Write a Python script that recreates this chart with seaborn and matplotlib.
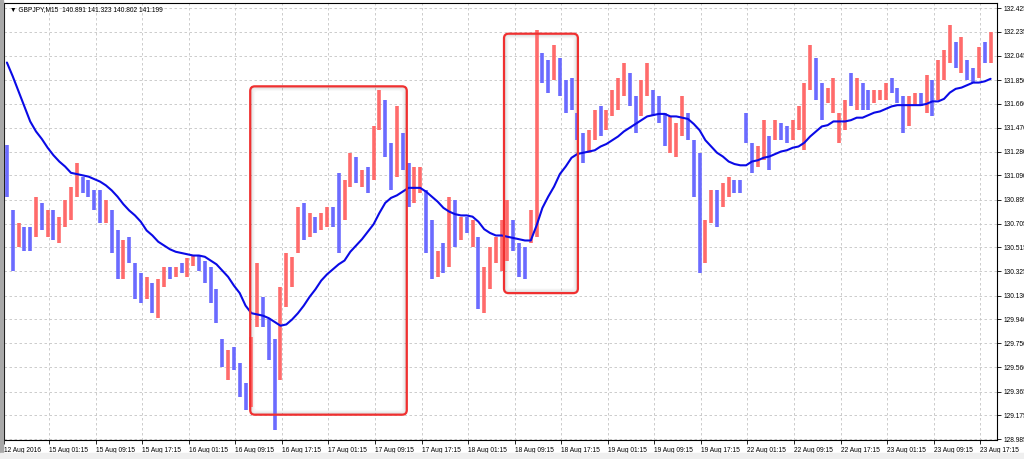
import numpy as np
import pandas as pd
import matplotlib
matplotlib.use("Agg")
import matplotlib.pyplot as plt
import seaborn as sns
from matplotlib.patches import FancyBboxPatch, Rectangle

# ---------------- data (hourly-resampled view of GBPJPY M15) ----------------
title_text = "\u25bc GBPJPY,M15  140.891 141.323 140.802 141.199"

bar_high = [
    131.33, 130.81, 130.71, 130.68, 130.68, 130.92, 130.87, 130.81, 130.81, 130.76,
    130.89, 131.00, 131.19, 131.08, 131.05, 130.97, 130.97, 130.89, 130.81, 130.65,
    130.57, 130.60, 130.39, 130.31, 130.28, 130.23, 130.26, 130.36, 130.36, 130.36,
    130.39, 130.43, 130.45, 130.45, 130.41, 130.36, 130.18, 129.78, 129.70, 129.72,
    129.59, 129.43, 129.80, 130.39, 130.12, 129.94, 129.78, 130.20, 130.47, 130.44,
    130.84, 130.87, 130.79, 130.76, 130.79, 130.84, 130.84, 131.11, 131.05, 131.27,
    131.24, 131.13, 131.16, 131.48, 131.77, 131.69, 131.35, 131.64, 131.43, 131.19,
    131.16, 131.16, 130.97, 130.73, 130.49, 130.55, 130.92, 130.89, 130.76, 130.76,
    130.73, 130.60, 130.36, 130.52, 130.60, 130.73, 130.89, 130.73, 130.55, 130.52,
    130.81, 132.25, 132.07, 132.01, 132.13, 132.03, 131.85, 131.87, 131.59, 131.43,
    131.45, 131.61, 131.64, 131.61, 131.77, 131.87, 131.99, 131.91, 131.72, 131.85,
    131.99, 131.77, 131.72, 131.59, 131.56, 131.51, 131.72, 131.59, 131.37, 131.27,
    130.73, 130.97, 130.97, 131.03, 131.08, 131.05, 131.05, 131.59, 131.35, 131.32,
    131.53, 131.40, 131.53, 131.51, 131.48, 131.53, 131.64, 131.83, 132.13, 132.03,
    131.83, 131.79, 131.87, 131.59, 131.69, 131.91, 131.87, 131.83, 131.77, 131.77,
    131.77, 131.83, 131.87, 131.79, 131.72, 131.72, 131.75, 131.75, 131.89, 131.85,
    132.01, 132.09, 132.29, 132.15, 132.19, 132.01, 131.95, 132.11, 132.15, 132.23,
]
bar_low = [
    130.92, 130.33, 130.52, 130.49, 130.49, 130.60, 130.65, 130.60, 130.57, 130.55,
    130.68, 130.73, 130.92, 130.95, 130.92, 130.81, 130.71, 130.71, 130.47, 130.26,
    130.26, 130.39, 130.10, 130.07, 130.10, 129.99, 129.95, 130.20, 130.26, 130.28,
    130.31, 130.28, 130.37, 130.33, 130.23, 130.07, 129.91, 129.56, 129.46, 129.54,
    129.32, 129.22, 129.24, 129.88, 129.88, 129.62, 129.06, 129.46, 130.04, 130.20,
    130.47, 130.57, 130.60, 130.63, 130.65, 130.68, 130.68, 130.47, 130.73, 131.00,
    131.03, 131.00, 130.95, 131.05, 131.45, 131.24, 130.97, 131.08, 131.13, 130.84,
    130.87, 130.95, 130.47, 130.26, 130.28, 130.31, 130.36, 130.52, 130.57, 130.63,
    130.52, 130.02, 129.99, 130.18, 130.39, 130.33, 130.41, 130.49, 130.28, 130.26,
    130.55, 130.60, 131.83, 131.75, 131.85, 131.72, 131.59, 131.61, 131.37, 131.19,
    131.27, 131.37, 131.40, 131.45, 131.56, 131.61, 131.72, 131.64, 131.43, 131.56,
    131.72, 131.56, 131.51, 131.32, 131.27, 131.24, 131.40, 131.37, 130.92, 130.31,
    130.39, 130.71, 130.68, 130.84, 130.92, 130.95, 130.95, 131.35, 131.11, 131.16,
    131.21, 131.13, 131.37, 131.37, 131.35, 131.37, 131.45, 131.29, 131.77, 131.69,
    131.53, 131.67, 131.59, 131.35, 131.45, 131.64, 131.61, 131.61, 131.61, 131.67,
    131.69, 131.69, 131.75, 131.67, 131.43, 131.48, 131.64, 131.64, 131.59, 131.56,
    131.69, 131.85, 131.99, 131.95, 131.91, 131.85, 131.83, 131.87, 131.99, 131.99,
]
# r = bullish bar (red), b = bearish bar (blue)
bar_dir = ("bbrbbrbrbr" "rrrbbbbrbb" "rbbbrbrrbr" "brrbbbbbrb" "bbrrbbbrrr"
           "rbrbrrbbrr" "brbrrbbrbb" "rrbbrbrbrb" "rbrrrrrbbb" "rrbbrbbbbb"
           "rrbrrrrbbr" "rbbbrrrbbb" "rrbrrbbbbr" "rbrbbrrrrb" "brrrrbrbbr"
           "rrbbbrrbrb" "rrrbrbbrbr")

ma_values = [
    131.99, 131.88, 131.76, 131.64, 131.52, 131.44, 131.38, 131.31, 131.25, 131.20,
    131.16, 131.11, 131.10, 131.09, 131.08, 131.06, 131.04, 131.01, 130.97, 130.92,
    130.86, 130.81, 130.77, 130.72, 130.65, 130.61, 130.56, 130.53, 130.50, 130.48,
    130.47, 130.46, 130.45, 130.45, 130.44, 130.41, 130.38, 130.33, 130.28, 130.21,
    130.15, 130.05, 129.99, 129.98, 129.97, 129.95, 129.92, 129.89, 129.90, 129.94,
    129.99, 130.05, 130.12, 130.18, 130.25, 130.30, 130.34, 130.38, 130.41, 130.48,
    130.53, 130.58, 130.64, 130.70, 130.79, 130.87, 130.91, 130.93, 130.96, 130.99,
    130.99, 130.99, 130.96, 130.92, 130.88, 130.83, 130.80, 130.78, 130.77, 130.77,
    130.76, 130.72, 130.66, 130.63, 130.61, 130.61, 130.60, 130.59, 130.58, 130.57,
    130.57, 130.69, 130.83, 130.92, 131.00, 131.10, 131.16, 131.23, 131.26, 131.27,
    131.28, 131.29, 131.32, 131.34, 131.37, 131.40, 131.44, 131.47, 131.50, 131.53,
    131.56, 131.57, 131.58, 131.58, 131.56, 131.56, 131.55, 131.54, 131.50, 131.45,
    131.37, 131.32, 131.27, 131.24, 131.20, 131.18, 131.17, 131.17, 131.20, 131.21,
    131.23, 131.24, 131.26, 131.28, 131.29, 131.31, 131.32, 131.35, 131.40, 131.44,
    131.48, 131.49, 131.52, 131.52, 131.52, 131.53, 131.55, 131.55, 131.57, 131.59,
    131.60, 131.62, 131.64, 131.65, 131.65, 131.65, 131.65, 131.65, 131.66, 131.68,
    131.68, 131.70, 131.75, 131.78, 131.79, 131.81, 131.83, 131.83, 131.84, 131.86,
]

x_tick_labels = ["12 Aug 2016", "15 Aug 01:15", "15 Aug 09:15", "15 Aug 17:15",
                 "16 Aug 01:15", "16 Aug 09:15", "16 Aug 17:15", "17 Aug 01:15",
                 "17 Aug 09:15", "17 Aug 17:15", "18 Aug 01:15", "18 Aug 09:15",
                 "18 Aug 17:15", "19 Aug 01:15", "19 Aug 09:15", "19 Aug 17:15",
                 "22 Aug 01:15", "22 Aug 09:15", "22 Aug 17:15", "23 Aug 01:15",
                 "23 Aug 09:15", "23 Aug 17:15"]
x_tick_pos = [0.0, 7.73, 15.73, 23.73, 31.73, 39.73, 47.73, 55.73, 63.73, 71.73,
              79.73, 87.73, 95.73, 103.73, 111.73, 119.73, 127.73, 135.73,
              143.73, 151.73, 159.73, 167.73]
y_ticks = [132.425, 132.235, 132.045, 131.850, 131.660, 131.470, 131.280,
           131.090, 130.895, 130.705, 130.515, 130.325, 130.130, 129.940,
           129.750, 129.560, 129.365, 129.175, 128.985]

# highlighted zones (bar index, price)
box_x0 = [42.3, 85.9]
box_x1 = [69.2, 98.6]
box_lo = [129.18, 130.15]
box_hi = [131.80, 132.22]

# ---------------- plotting ----------------
sns.set_style("white")
plt.rcParams["font.family"] = ["Liberation Sans", "DejaVu Sans"]
FS = 4.8

W, H, DPI = 1024, 459, 100
fig = plt.figure(figsize=(W / DPI, H / DPI), dpi=DPI, facecolor="white")
ax = fig.add_axes([4 / W, (H - 440) / H, (997 - 4) / W, (440 - 3) / H])

n = len(bar_high)
df = pd.DataFrame({"x": np.arange(n) + 0.5, "high": bar_high, "low": bar_low,
                   "dir": list(bar_dir), "ma": ma_values})
XMAX = 170.6
YMIN, YMAX = 128.978, 132.465
ax.set_xlim(0, XMAX)
ax.set_ylim(YMIN, YMAX)

# grid
for xt in x_tick_pos[1:]:
    ax.axvline(xt, color="#c4c4c4", lw=0.6, ls=(0, (3, 3)), zorder=0)
for yt in y_ticks:
    ax.axhline(yt, color="#c4c4c4", lw=0.6, ls=(0, (3, 3)), zorder=0)

col_map = {"r": "#ff6b6b", "b": "#6b6bff"}
ax.vlines(df["x"], df["low"], df["high"], colors=[col_map[c] for c in df["dir"]],
          linewidth=2.6, zorder=2)

sns.lineplot(data=df, x="x", y="ma", color="#0a0ae6", linewidth=1.5, ax=ax,
             zorder=3)

# annotation boxes
xpp = XMAX / 993.0
ypp = (YMAX - YMIN) / 437.0
for x0, x1, lo, hi in zip(box_x0, box_x1, box_lo, box_hi):
    for k, a in [(1, 0.10), (2, 0.07), (3, 0.045), (4, 0.025)]:
        sh = FancyBboxPatch((x0 + k * xpp, lo + k * ypp),
                            (x1 - x0) - 2 * k * xpp, (hi - lo) - 2 * k * ypp,
                            boxstyle="round,pad=0,rounding_size=0.7",
                            mutation_aspect=ypp / xpp,
                            fill=False, ec=(0, 0, 0, a), lw=1.0, zorder=1)
        ax.add_patch(sh)
    box = FancyBboxPatch((x0, lo), x1 - x0, hi - lo,
                         boxstyle="round,pad=0,rounding_size=0.8",
                         mutation_aspect=ypp / xpp,
                         fill=False, ec="#f03030", lw=1.6, zorder=4)
    ax.add_patch(box)

# axes styling
ax.set_xlabel("")
ax.set_ylabel("")
ax.yaxis.tick_right()
ax.set_yticks(y_ticks)
ax.set_yticklabels([f"{v:.3f}" for v in y_ticks])
ax.set_xticks(x_tick_pos)
ax.set_xticklabels(x_tick_labels, ha="left")
ax.tick_params(axis="y", length=3, width=0.6, pad=1.5, labelsize=FS, colors="black",
               right=True, left=False)
ax.tick_params(axis="x", length=3, width=0.6, pad=2, labelsize=FS, colors="black",
               bottom=True)
for s in ax.spines.values():
    s.set_color("black")
    s.set_linewidth(0.8)
    s.set_visible(True)

ax.text(6 / 993, 1 - 7 / 437, title_text, transform=ax.transAxes,
        fontsize=FS, va="center", ha="left", color="black", zorder=5,
        family=["Liberation Sans", "DejaVu Sans"])

# window chrome: left border and bottom strip
fig.patches.append(Rectangle((0, 0), 3 / W, 1, transform=fig.transFigure,
                             color="#a8a8a8", zorder=0))
fig.patches.append(Rectangle((0, 0), 1, 6 / H, transform=fig.transFigure,
                             color="#efefef", zorder=0))

fig.savefig("out.png", dpi=DPI, facecolor="white")
